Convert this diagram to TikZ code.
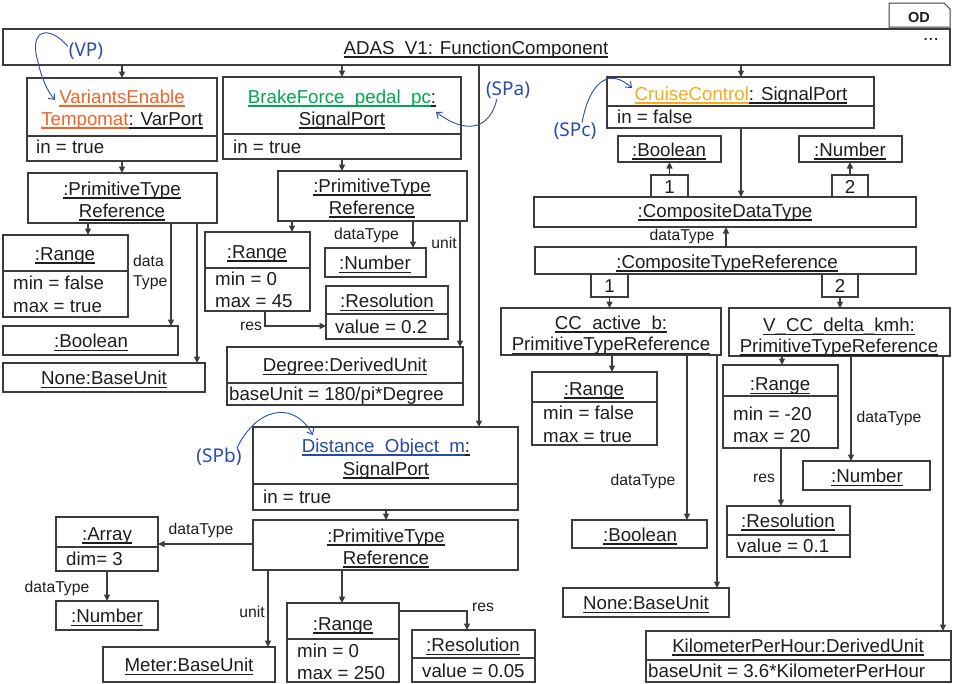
\documentclass[tikz,border=0pt]{standalone}
\usepackage{fontspec}
\setmainfont{Liberation Sans}
\newfontfamily\handfont{Noto Sans}
\usetikzlibrary{arrows.meta,calc}
\definecolor{lc}{RGB}{60,60,60}
\definecolor{tc}{RGB}{30,30,30}
\definecolor{veor}{RGB}{240,100,40}
\definecolor{bfgr}{RGB}{0,166,80}
\definecolor{ccor}{RGB}{250,170,20}
\definecolor{dsbl}{RGB}{40,75,160}
\definecolor{anbl}{RGB}{45,75,170}
\newcommand\ulx[1]{\setbox0=\hbox{#1}\setbox2=\hbox{\_}\rlap{\rule[-\dp2]{\wd0}{1.4pt}}\box0}
\newcommand\mainfs{\fontsize{18.7}{22}\selectfont}
\newcommand\labfs{\fontsize{15.7}{18}\selectfont}
\newcommand\obox[5]{\node[box, minimum width={(#4)-(#2)}, minimum height={(#5)-(#3)}, anchor=north west] (#1) at (#2,#3) {};}
\tikzset{
  box/.style={draw=lc, line width=1.1pt, fill=white, inner sep=0pt, outer sep=0pt},
  sepl/.style={draw=lc, line width=1.1pt},
  conn/.style={draw=lc, line width=1.1pt, -{Triangle[length=6.5pt,width=6pt]}},
  t/.style={inner sep=0pt, anchor=mid, font=\mainfs, text=tc, yshift=-3pt},
  tl/.style={inner sep=0pt, anchor=mid west, font=\mainfs, text=tc, yshift=-3pt},
  lab/.style={inner sep=0pt, anchor=mid, font=\labfs, text=tc, yshift=-3pt},
  ann/.style={inner sep=0pt, anchor=mid, font=\handfont\fontsize{19}{22}\selectfont, text=anbl, yshift=-4pt},
  annl/.style={draw=anbl, line width=0.9pt, -{Straight Barb[length=5pt,width=8pt]}},
}
\begin{document}
\begin{tikzpicture}[x=1pt,y=-1pt]
\useasboundingbox[fill=white] (0,0) rectangle (953,683);

% OD tab
\draw[lc, line width=1pt] (889,27) -- (889,3) -- (944,3) -- (950,9) -- (950,27) -- cycle;
\node[inner sep=0pt, font=\bfseries\fontsize{14.5}{16}\selectfont, text=tc] (od) at (919,17.5) {OD};

% top component
\obox{adas}{3}{29}{950}{65}
\node[t] (t-adas) at (476,48.5) {\ulx{ADAS\_V1: FunctionComponent}};
\node[inner sep=0pt, font=\mainfs, text=tc, anchor=base] (t-dots) at (931,40) {...};

% VariantsEnable
\obox{ve}{27}{78}{217}{161}
\draw[sepl] (ve.west |- 0,136) -- (ve.east |- 0,136);
\node[t] (t-ve1) at (122,97.5) {{\color{veor}\ulx{VariantsEnable}}};
\node[t] (t-ve2) at (122,119.5) {{\color{veor}\ulx{Tempomat}}\ulx{: VarPort}};
\node[tl] (t-ve3) at (36,148) {in = true};

\obox{ptr1}{28}{173}{217}{223}
\node[t] (t-p1a) at (122,189.5) {\ulx{:PrimitiveType}};
\node[t] (t-p1b) at (122,211.5) {\ulx{Reference}};

\obox{rg1}{3}{235}{128}{317}
\draw[sepl] (rg1.west |- 0,271) -- (rg1.east |- 0,271);
\node[t] (t-rg1a) at (65,254.5) {\ulx{:Range}};
\node[tl] (t-rg1b) at (13,284) {min = false};
\node[tl] (t-rg1c) at (13,307) {max = true};
\node[lab, anchor=mid west] (l-dt1a) at (133,261) {data};
\node[lab, anchor=mid west] (l-dt1b) at (133,281) {Type};

\obox{bo1}{3}{326}{178}{355}
\node[t] (t-bo1) at (91,342) {\ulx{:Boolean}};
\obox{no1}{3}{363}{205}{392}
\node[t] (t-no1) at (104,379) {\ulx{None:BaseUnit}};

% BrakeForce
\obox{bf}{223}{77}{461}{159}
\draw[sepl] (bf.west |- 0,134) -- (bf.east |- 0,134);
\node[t] (t-bf1) at (342,97.5) {{\color{bfgr}\ulx{BrakeForce\_pedal\_pc}}\ulx{:}};
\node[t] (t-bf2) at (342,119.5) {\ulx{SignalPort}};
\node[tl] (t-bf3) at (233,148) {in = true};

\obox{ptr2}{278}{171}{467}{221}
\node[t] (t-p2a) at (372,186.5) {\ulx{:PrimitiveType}};
\node[t] (t-p2b) at (372,208.5) {\ulx{Reference}};

\obox{rg2}{205}{232}{310}{311}
\draw[sepl] (rg2.west |- 0,268) -- (rg2.east |- 0,268);
\node[t] (t-rg2a) at (257,252.5) {\ulx{:Range}};
\node[tl] (t-rg2b) at (215,280) {min = 0};
\node[tl] (t-rg2c) at (215,302) {max = 45};

\obox{nu2}{325}{248}{426}{277}
\node[t] (t-nu2) at (375,264) {\ulx{:Number}};
\node[lab, anchor=mid east] (l-dt2) at (399,234) {dataType};

\obox{re2}{326}{286}{448}{339}
\draw[sepl] (re2.west |- 0,314) -- (re2.east |- 0,314);
\node[t] (t-re2a) at (387,302) {\ulx{:Resolution}};
\node[tl] (t-re2b) at (335,328) {value = 0.2};
\node[lab] (l-res2) at (251,325) {res};
\node[lab] (l-unit2) at (444,243) {unit};

\obox{deg}{227}{347}{463}{405}
\draw[sepl] (deg.west |- 0,383) -- (deg.east |- 0,383);
\node[t] (t-deg1) at (345,366) {\ulx{Degree:DerivedUnit}};
\node[tl] (t-deg2) at (229,395) {baseUnit = 180/pi*Degree};

% Distance
\obox{ds}{253}{427}{518}{510}
\draw[sepl] (ds.west |- 0,484) -- (ds.east |- 0,484);
\node[t] (t-ds1) at (386,446.5) {{\color{dsbl}\ulx{Distance\_Object\_m}}\ulx{:}};
\node[t] (t-ds2) at (386,469.5) {\ulx{SignalPort}};
\node[tl] (t-ds3) at (263,498) {in = true};

\obox{ptr3}{253}{520}{518}{570}
\node[t] (t-p3a) at (386,536.5) {\ulx{:PrimitiveType}};
\node[t] (t-p3b) at (386,558.5) {\ulx{Reference}};

\obox{arr}{56}{517}{158}{571}
\draw[sepl] (arr.west |- 0,547) -- (arr.east |- 0,547);
\node[t] (t-arr1) at (107,534.5) {\ulx{:Array}};
\node[tl] (t-arr2) at (66,560) {dim= 3};
\node[lab] (l-dt3) at (201,529) {dataType};

\obox{nu3}{56}{601}{158}{630}
\node[t] (t-nu3) at (107,617) {\ulx{:Number}};
\node[lab] (l-dt4) at (57,587) {dataType};

\obox{met}{103}{647}{275}{682}
\node[t] (t-met) at (189,666) {\ulx{Meter:BaseUnit}};
\node[lab] (l-unit3) at (252,612) {unit};

\obox{rg3}{287}{603}{399}{682}
\draw[sepl] (rg3.west |- 0,639) -- (rg3.east |- 0,639);
\node[t] (t-rg3a) at (343,624.5) {\ulx{:Range}};
\node[tl] (t-rg3b) at (297,652) {min = 0};
\node[tl] (t-rg3c) at (297,674) {max = 250};

\obox{re3}{412}{630}{535}{682}
\draw[sepl] (re3.west |- 0,658) -- (re3.east |- 0,658);
\node[t] (t-re3a) at (473,646) {\ulx{:Resolution}};
\node[tl] (t-re3b) at (422,672) {value = 0.05};
\node[lab] (l-res3) at (483,606) {res};

% CruiseControl
\obox{cc}{607}{77}{874}{128}
\draw[sepl] (cc.west |- 0,106) -- (cc.east |- 0,106);
\node[t] (t-cc1) at (741,94.5) {{\color{ccor}\ulx{CruiseControl}}\ulx{: SignalPort}};
\node[tl] (t-cc2) at (617,118) {in = false};

\obox{bt}{618}{136}{721}{162}
\node[t] (t-bt) at (669,150.5) {\ulx{:Boolean}};
\obox{nt}{799}{136}{902}{162}
\node[t] (t-nt) at (850,150.5) {\ulx{:Number}};

\obox{cdt}{534}{197}{916}{227}
\node[t] (t-cdt) at (725,211.5) {\ulx{:CompositeDataType}};
\obox{k1}{651}{175}{688}{197}
\node[t] (t-k1) at (669.5,187.5) {1};
\obox{k2}{832}{175}{868}{197}
\node[t] (t-k2) at (850,187.5) {2};
\node[lab] (l-dt5) at (682,235) {dataType};

\obox{ctr}{535}{247}{916}{274}
\node[t] (t-ctr) at (727,262.5) {\ulx{:CompositeTypeReference}};
\obox{k3}{591}{274}{628}{297}
\node[t] (t-k3) at (609.5,287) {1};
\obox{k4}{822}{274}{858}{297}
\node[t] (t-k4) at (840,287) {2};

\obox{cca}{501}{308}{721}{355}
\node[t] (t-cca1) at (611,323.5) {\ulx{CC\_active\_b:}};
\node[t] (t-cca2) at (611,345) {\ulx{PrimitiveTypeReference}};

\obox{vb}{729}{308}{950}{356}
\node[t] (t-vb1) at (839,326) {\ulx{V\_CC\_delta\_kmh:}};
\node[t] (t-vb2) at (839,346.5) {\ulx{PrimitiveTypeReference}};

\obox{rgc}{532}{372}{657}{445}
\draw[sepl] (rgc.west |- 0,402) -- (rgc.east |- 0,402);
\node[t] (t-rgc1) at (594,389.5) {\ulx{:Range}};
\node[tl] (t-rgc2) at (543,414) {min = false};
\node[tl] (t-rgc3) at (543,437) {max = true};

\obox{boc}{572}{520}{707}{548}
\node[t] (t-boc) at (640,535.5) {\ulx{:Boolean}};
\node[lab] (l-dt6) at (643,480) {dataType};

\obox{noc}{563}{588}{729}{617}
\node[t] (t-noc) at (646,604) {\ulx{None:BaseUnit}};

\obox{rgv}{723}{365}{838}{448}
\draw[sepl] (rgv.west |- 0,396) -- (rgv.east |- 0,396);
\node[t] (t-rgv1) at (780,385) {\ulx{:Range}};
\node[tl] (t-rgv2) at (733,415) {min = -20};
\node[tl] (t-rgv3) at (733,437) {max = 20};

\obox{nuv}{803}{461}{930}{490}
\node[t] (t-nuv) at (867,477) {\ulx{:Number}};
\node[lab] (l-dt7) at (889,417) {dataType};

\obox{rev}{727}{506}{850}{557}
\draw[sepl] (rev.west |- 0,535) -- (rev.east |- 0,535);
\node[t] (t-rev1) at (788,521.5) {\ulx{:Resolution}};
\node[tl] (t-rev2) at (737,547) {value = 0.1};
\node[lab] (l-res4) at (764,477) {res};

\obox{kmh}{646}{631}{951}{682}
\draw[sepl] (kmh.west |- 0,660) -- (kmh.east |- 0,660);
\node[t] (t-kmh1) at (798,646.5) {\ulx{KilometerPerHour:DerivedUnit}};
\node[tl] (t-kmh2) at (648,672) {baseUnit = 3.6*KilometerPerHour};

% connectors
\draw[conn] (adas.south -| ve.north) -- (ve.north);
\draw[conn] (adas.south -| 342,0) -- (bf.north -| 342,0);
\draw[conn] (adas.south -| 741,0) -- (cc.north -| 741,0);
\draw[conn] (adas.south -| 479,0) -- (ds.north -| 479,0);
\draw[conn] (ve.south) -- (ptr1.north -| ve.south);
\draw[conn] (ptr1.south -| 88,0) -- (rg1.north -| 88,0);
\draw[conn] (ptr1.south -| 171,0) -- (bo1.north -| 171,0);
\draw[conn] (ptr1.south -| 197,0) -- (no1.north -| 197,0);
\draw[conn] (bf.south -| 342,0) -- (ptr2.north -| 342,0);
\draw[conn] (ptr2.south -| 292,0) -- (rg2.north -| 292,0);
\draw[conn] (ptr2.south -| 413,0) -- (nu2.north -| 413,0);
\draw[conn] (ptr2.south -| 460,0) -- (deg.north -| 460,0);
\draw[conn] (rg2.south -| 265,0) |- (re2.west |- 0,326);
\draw[conn] (ds.south -| 386,0) -- (ptr3.north -| 386,0);
\draw[conn] (ptr3.west |- 0,544) -- (arr.east |- 0,544);
\draw[conn] (arr.south -| 107,0) -- (nu3.north -| 107,0);
\draw[conn] (ptr3.south -| 268,0) -- (met.north -| 268,0);
\draw[conn] (ptr3.south -| 342,0) -- (rg3.north -| 342,0);
\draw[conn] (rg3.east |- 0,611) -| (re3.north -| 467,0);
\draw[conn] (cc.south -| 741,0) -- (cdt.north -| 741,0);
\draw[conn] (k1.north) -- (bt.south -| k1.north);
\draw[conn] (k2.north) -- (nt.south -| k2.north);
\draw[conn] (ctr.north -| 726,0) -- (cdt.south -| 726,0);
\draw[conn] (k3.south) -- (cca.north -| k3.south);
\draw[conn] (k4.south) -- (vb.north -| k4.south);
\draw[conn] (cca.south -| 612,0) -- (rgc.north -| 612,0);
\draw[conn] (cca.south -| 687,0) -- (boc.north -| 687,0);
\draw[conn] (cca.south -| 717,0) -- (noc.north -| 717,0);
\draw[conn] (vb.south -| 782,0) -- (rgv.north -| 782,0);
\draw[conn] (vb.south -| 851,0) -- (nuv.north -| 851,0);
\draw[conn] (vb.south -| 943,0) -- (kmh.north -| 943,0);
\draw[conn] (rgv.south -| 781,0) -- (rev.north -| 781,0);

% annotations
\node[ann] (vp) at (86,50) {(VP)};
\coordinate (vp-tip) at (55,100);
\draw[annl] ([shift={(-1,-5)}]vp.west) .. controls (50,25) and (28,28) .. (38,62) .. controls (42,80) and (48,92) .. (vp-tip);
\node[ann] (spa) at (508,89) {(SPa)};
\coordinate (spa-tip) at (436,112);
\draw[annl] ([xshift=-11pt]spa.south) .. controls (490,128) and (468,136) .. (spa-tip);
\node[ann] (spb) at (219,456) {(SPb)};
\coordinate (spb-tip) at (313,435);
\draw[annl] ([xshift=18pt]spb.north) .. controls (255,410) and (292,398) .. (spb-tip);
\node[ann] (spc) at (575,130) {(SPc)};
\coordinate (spc-tip) at (632,88);
\draw[annl] ([xshift=7pt]spc.north) .. controls (590,80) and (610,68) .. (spc-tip);
\end{tikzpicture}
\end{document}
